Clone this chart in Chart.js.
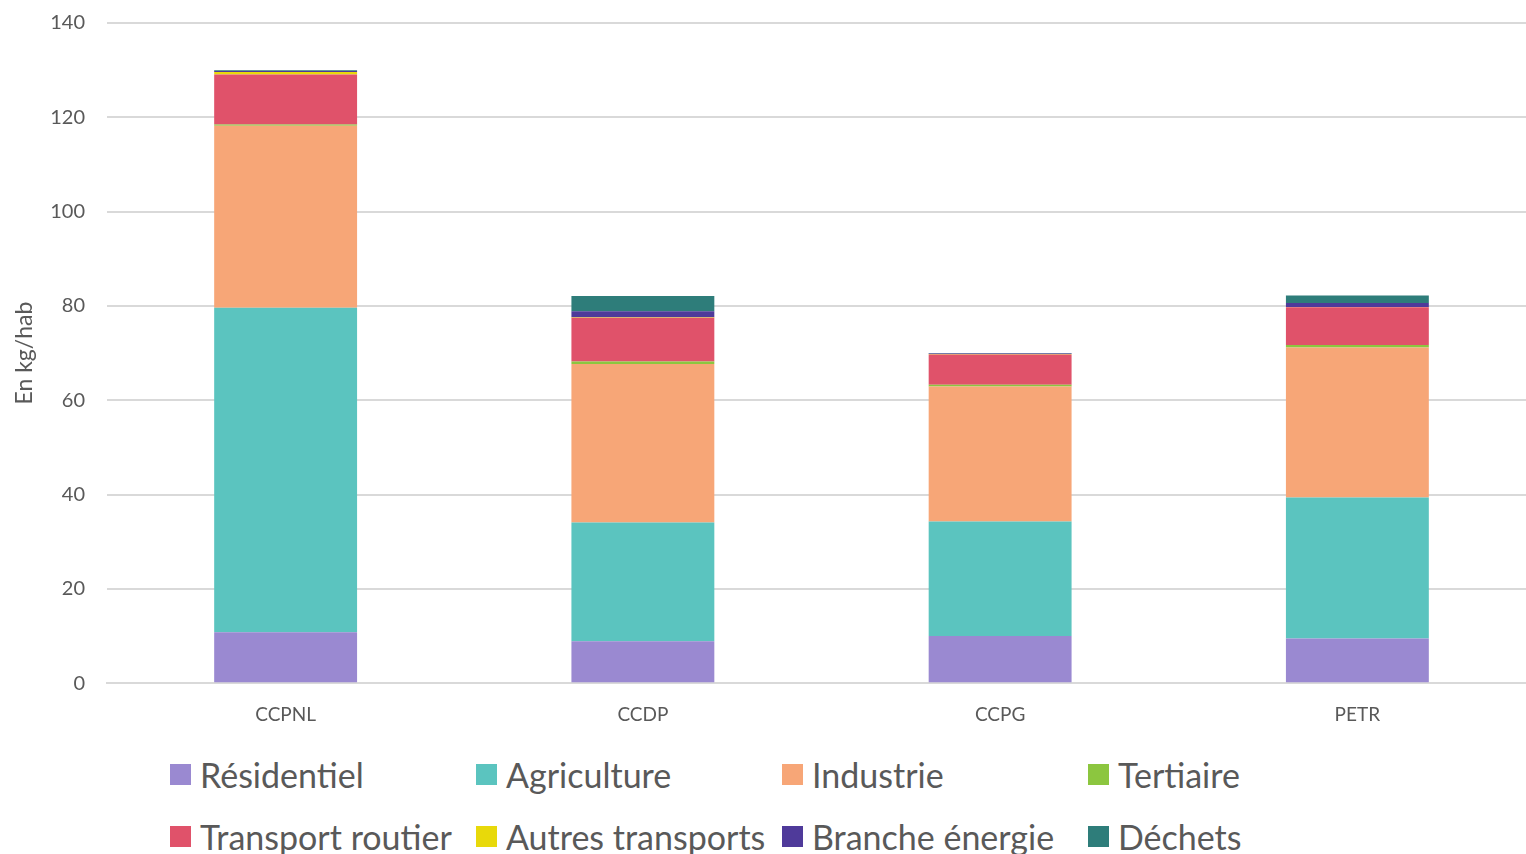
<!DOCTYPE html>
<html>
<head>
<meta charset="utf-8">
<script src="https://cdn.jsdelivr.net/npm/chart.js@4"></script>
<style>
  body { margin: 0; background: #fff; font-family: Lato, "Open Sans", sans-serif; overflow: hidden; }
  #wrap { position: relative; width: 1536px; height: 757px; margin-top: -11px; }
  #legend { position: absolute; left: 170px; top: 752px; display: grid; grid-template-columns: repeat(4, 306px); row-gap: 18px; }
  .item { display: flex; align-items: center; font-size: 34px; color: #595959; height: 44px; white-space: nowrap; }
  .box { width: 21px; height: 21px; margin-right: 9px; flex: none; }
</style>
</head>
<body>
<div id="wrap"><canvas id="chart"></canvas></div>
<div id="legend"></div>
<script>
// DATA
const categories = ['CCPNL', 'CCDP', 'CCPG', 'PETR'];
const residentiel = [10.8, 8.9, 10.0, 9.5];
const agriculture = [68.8, 25.2, 24.3, 29.9];
const industrie = [38.6, 33.6, 28.6, 31.8];
const tertiaire = [0.3, 0.5, 0.4, 0.5];
const transportRoutier = [10.6, 9.3, 6.4, 8.0];
const autresTransports = [0.5, 0.1, 0.1, 0.1];
const brancheEnergie = [0.2, 1.3, 0.1, 0.8];
const dechets = [0.2, 3.2, 0.1, 1.6];

const series = [
    { label: 'Résidentiel', data: residentiel, color: '#9a89d1' },
    { label: 'Agriculture', data: agriculture, color: '#5bc4bf' },
    { label: 'Industrie', data: industrie, color: '#f7a677' },
    { label: 'Tertiaire', data: tertiaire, color: '#8cc63f' },
    { label: 'Transport routier', data: transportRoutier, color: '#e0526a' },
    { label: 'Autres transports', data: autresTransports, color: '#e8d90a' },
    { label: 'Branche énergie', data: brancheEnergie, color: '#4f3a9a' },
    { label: 'Déchets', data: dechets, color: '#2e7d7a' }
];

const ctx = document.getElementById('chart').getContext('2d');
const chart = new Chart(ctx, {
    type: 'bar',
    data: {
        labels: categories,
        datasets: series.map(s => ({
            label: s.label,
            data: s.data,
            backgroundColor: s.color,
            borderWidth: 0,
            categoryPercentage: 0.8,
            barPercentage: 0.5
        }))
    },
    options: {
        responsive: true,
        maintainAspectRatio: false,
        animation: false,
        layout: { padding: { top: 1, right: 0, left: 0, bottom: 0 } },
        plugins: { legend: { display: false }, tooltip: { enabled: false } },
        scales: {
            x: {
                stacked: true,
                grid: { display: false, drawTicks: false },
                border: { color: '#d9d9d9', width: 2 },
                ticks: { color: '#595959', font: { family: 'Lato', size: 19 }, padding: 20 }
            },
            y: {
                stacked: true,
                min: 0,
                max: 140,
                ticks: { stepSize: 20, color: '#595959', font: { family: 'Lato', size: 20 }, padding: 22 },
                grid: { color: '#d9d9d9', lineWidth: 2, drawTicks: false },
                border: { display: false },
                title: { display: true, text: 'En kg/hab', color: '#595959', font: { family: 'Lato', size: 23 }, padding: { top: 11, bottom: 0 } },
                afterFit: (scale) => { scale.width = 107; }
            }
        }
    }
});

// LEGEND
const legend = document.getElementById('legend');
series.forEach(s => {
    const div = document.createElement('div');
    div.className = 'item';
    div.innerHTML = `<span class="box" style="background:${s.color}"></span>${s.label}`;
    legend.appendChild(div);
});
</script>
</body>
</html>
